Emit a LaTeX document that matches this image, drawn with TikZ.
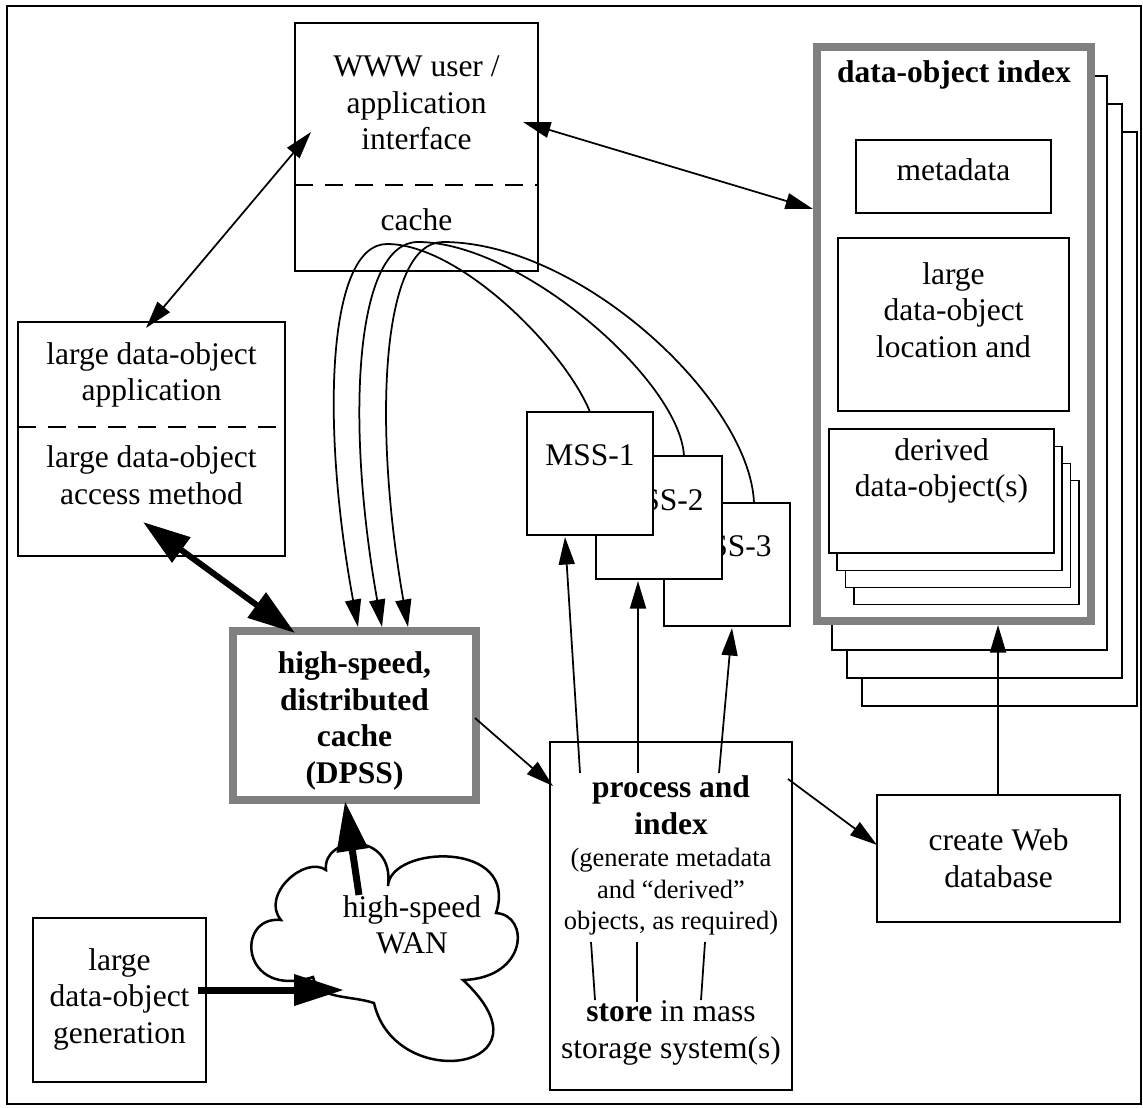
\documentclass[tikz,border=0pt]{standalone}
\usepackage{fontspec}
\setmainfont{Liberation Serif}
\usetikzlibrary{arrows.meta}
\definecolor{boxgray}{RGB}{128,128,128}
\begin{document}
\begin{tikzpicture}[x=0.4pt,y=-0.4pt,
  box/.style={draw, line width=0.7pt, fill=white, inner sep=0pt, outer sep=0pt},
  gbox/.style={draw=boxgray, line width=3.2pt, fill=white, inner sep=0pt, outer sep=0pt},
  txt/.style={inner sep=0pt, align=center, font=\fontsize{12.6}{14.6}\selectfont},
  btxt/.style={inner sep=0pt, align=center, font=\fontsize{12.6}{14.6}\selectfont\bfseries},
  stxt/.style={inner sep=0pt, align=center, font=\fontsize{10.6}{12.6}\selectfont},
  divider/.style={line width=0.7pt, dash pattern=on 7pt off 5pt},
  conn/.style={line width=0.7pt},
  arr/.style={conn, -{Triangle[length=11pt,width=6.4pt]}},
  darr/.style={conn, {Triangle[length=11pt,width=6.4pt]}-{Triangle[length=11pt,width=6.4pt]}},
  fatarr/.style={line width=2.8pt, -{Triangle[length=20pt,width=12pt]}},
  fatdarr/.style={line width=2.4pt, {Triangle[length=19pt,width=12pt]}-{Triangle[length=19pt,width=12pt]}},
  pg/.style={box, minimum width=110pt, minimum height=229.6pt},
  mss/.style={box, minimum width=50.4pt, minimum height=49.2pt},
  der/.style={box, minimum width=90pt, minimum height=49.6pt}
]
\useasboundingbox (0,0) rectangle (1143,1107);
\draw[line width=0.8pt] (7,6) rectangle (1141,1104);

% ---- data-object index stack
\node[pg] (pg3) at (999.5,419) {};
\node[pg] (pg2) at (984.5,391) {};
\node[pg] (pg1) at (969.5,363) {};
\node[gbox, minimum width=109.6pt, minimum height=229.6pt] (idx) at (954,334) {};
\node[btxt] (idxt) at (954,75) {data-object index};
\node[box, minimum width=78pt, minimum height=29.2pt] (meta) at (953.5,176.5) {};
\node[txt] (metat) at (953.5,170) {metadata};
\node[box, minimum width=92.4pt, minimum height=69.2pt] (loc) at (953.5,324.5) {};
\node[txt] (loct) at (953.5,310) {large\\data-object\\location and};
\node[der] (der4) at (966.5,542.5) {};
\node[der] (der3) at (958,525.5) {};
\node[der] (der2) at (949.5,508.5) {};
\node[der] (der1) at (941.5,491) {};
\node[txt] (dert) at (941.5,471) {derived\\data-object(s)};

% ---- WWW box
\node[box, minimum width=97.2pt, minimum height=99.2pt] (www) at (416.5,147) {};
\draw[divider] (295,185) -- (538,185);
\node[txt] (wwwt) at (416.5,103) {WWW user /\\application\\interface};
\node[txt] (cachet) at (416.5,220) {cache};

% ---- application box
\node[box, minimum width=106.8pt, minimum height=93.6pt] (app) at (151.5,439) {};
\draw[divider] (18,427) -- (285,427);
\node[txt] (appt) at (151.5,375) {large data-object\\application};
\node[txt] (acct) at (151.5,475) {large data-object\\access method};

% ---- DPSS
\node[gbox, minimum width=97.2pt, minimum height=67.6pt] (dpss) at (354.5,715.5) {};
\node[btxt] (dpsst) at (354.5,721) {high-speed,\\distributed\\cache\\(DPSS)};

% ---- MSS boxes
\node[mss] (mss3) at (727,564.5) {};
\node[txt] (mss3t) at (727,546) {MSS-3};
\node[mss] (mss2) at (659,517.5) {};
\node[txt] (mss2t) at (659,500) {MSS-2};
\node[mss] (mss1) at (590,473.5) {};
\node[txt] (mss1t) at (590,455) {MSS-1};

% ---- process and index
\node[box, minimum width=96.8pt, minimum height=139.2pt] (proc) at (671,916) {};
\node[btxt] (proct) at (671,805) {process and\\index};
\node[stxt] (procs) at (671,892) {(generate metadata\\and “derived”\\objects, as required)};
\node[txt] (storet) at (671,1033) {\textbf{store} in mass\\storage system(s)};

% ---- create Web database
\node[box, minimum width=97.2pt, minimum height=50.8pt] (web) at (998.5,858.5) {};
\node[txt] (webt) at (998.5,858) {create Web\\database};

% ---- generation
\node[box, minimum width=69.2pt, minimum height=65.6pt] (gen) at (119.5,1000) {};
\node[txt] (gent) at (119.5,999) {large\\data-object\\generation};

% ---- cloud
\draw[line width=1pt, fill=white] (313,977) .. controls (318,1000) and (350,995) .. (374,1003)
 .. controls (395,1095) and (560,1070) .. (463,980)
 .. controls (528,978) and (530,915) .. (496,913)
 .. controls (520,840) and (390,845) .. (388,886)
 .. controls (395,830) and (322,835) .. (326,870)
 .. controls (305,855) and (260,895) .. (281,920)
 .. controls (235,915) and (240,1000) .. (313,977) -- cycle;
\node[txt] (want) at (412,925) {high-speed\\WAN};

% ---- coordinates
\coordinate (wA) at (311,132); \coordinate (aW) at (146,328);
\coordinate (wI) at (523,122); \coordinate (iW) at (813,209);
\coordinate (aD) at (143,522); \coordinate (dA) at (295,633);
\coordinate (dP) at (475,718); \coordinate (pD) at (553,786);
\coordinate (pW) at (788,779); \coordinate (wP) at (877,845);
\coordinate (wT) at (998,795); \coordinate (iB) at (998,625);
\coordinate (p1) at (580,773); \coordinate (m1b) at (565,537);
\coordinate (p2) at (638,773); \coordinate (m2b) at (638,581);
\coordinate (p3) at (719,773); \coordinate (m3b) at (732,628);
\coordinate (s1a) at (591,942); \coordinate (s1b) at (595,1000);
\coordinate (s2a) at (637,942); \coordinate (s2b) at (637,1002);
\coordinate (s3a) at (705,942); \coordinate (s3b) at (701,1000);
\coordinate (c1s) at (590,412); \coordinate (c2s) at (684,456); \coordinate (c3s) at (754,503);
\coordinate (pk1) at (387,244); \coordinate (pk2) at (418,242); \coordinate (pk3) at (443,242);
\coordinate (d1) at (358,627); \coordinate (d2) at (382,627); \coordinate (d3) at (408,627);
\coordinate (gC) at (198,990); \coordinate (cG) at (344,990);
\coordinate (cD) at (359,895); \coordinate (dC) at (345,801);

% ---- connectors
\draw[darr] (aW) -- (wA);
\draw[darr] (wI) -- (iW);
\draw[fatdarr] (aD) -- (dA);
\draw[arr] (dP) -- (pD);
\draw[arr] (pW) -- (wP);
\draw[arr] (wT) -- (iB);
\draw[arr] (p1) -- (m1b);
\draw[arr] (p2) -- (m2b);
\draw[arr] (p3) -- (m3b);
\draw[conn] (s1a) -- (s1b);
\draw[conn] (s2a) -- (s2b);
\draw[conn] (s3a) -- (s3b);
\draw[arr] (c1s) .. controls (565,350) and (460,244) .. (pk1) .. controls (328,244) and (320,420) .. (d1);
\draw[arr] (c2s) .. controls (680,380) and (520,242) .. (pk2) .. controls (355,242) and (345,420) .. (d2);
\draw[arr] (c3s) .. controls (750,400) and (580,242) .. (pk3) .. controls (382,242) and (372,420) .. (d3);
\draw[fatarr] (gC) -- (cG);
\draw[fatarr] (cD) -- (dC);
\end{tikzpicture}
\end{document}
